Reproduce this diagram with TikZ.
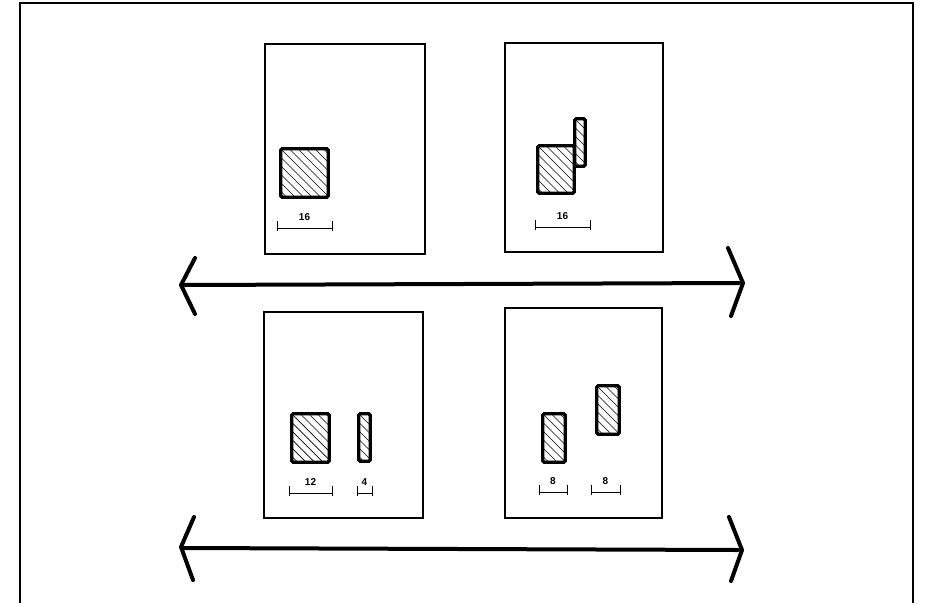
\documentclass[tikz,border=0pt]{standalone}
\usepackage{fontspec}
\setmainfont{Liberation Sans}
\begin{document}
\begin{tikzpicture}[x=1pt,y=-1pt,
  frame/.style={line width=2.2pt},
  panel/.style={draw,line width=1.1pt,inner sep=0pt,fill=white},
  block/.style={draw,line width=3.4pt,rounded corners=1.5pt,inner sep=0pt,fill=white,
    path picture={\foreach \k in {-14,...,10}
      \draw[line width=0.7pt] ([xshift=\k*8.5pt]path picture bounding box.north west) -- ++(120pt,-120pt);}},
  dim/.style={line width=0.8pt},
  lbl/.style={inner sep=0pt,font=\fontsize{10}{11}\selectfont\bfseries},
  shaft/.style={line width=4pt,line cap=round},
  chev/.style={line width=4pt,line cap=round,line join=round}]
\useasboundingbox (0,0) rectangle (925,603);
\draw[frame] (20,603) -- (20,3) -- (913,3) -- (913,603);

% panels
\node[panel,minimum width=160pt,minimum height=210pt] (p1) at (345,149) {};
\node[panel,minimum width=158pt,minimum height=209pt] (p2) at (584,147.5) {};
\node[panel,minimum width=159pt,minimum height=206pt] (p3) at (343.5,415) {};
\node[panel,minimum width=157pt,minimum height=210pt] (p4) at (583.5,413) {};

% hatched blocks
\node[block,minimum width=47.5pt,minimum height=48.5pt] (r1) at (304.5,173) {};
\node[block,minimum width=36.5pt,minimum height=47.5pt] (r2a) at (556,169.5) {};
\node[block,minimum width=10.5pt,minimum height=47.5pt] (r2b) at (580,142.5) {};
\node[block,minimum width=37.5pt,minimum height=48.5pt] (r3a) at (310.5,438) {};
\node[block,minimum width=11.5pt,minimum height=47.5pt] (r3b) at (364.5,437.5) {};
\node[block,minimum width=22.5pt,minimum height=48.5pt] (r4a) at (554,438) {};
\node[block,minimum width=22.5pt,minimum height=48.5pt] (r4b) at (608,410) {};

% dimension bars
\newcommand\dimbar[5]{%
  \coordinate (#5l) at (#1,#3);
  \coordinate (#5r) at (#2,#3);
  \draw[dim] (#5l) -- (#5r);
  \draw[dim] ([yshift=7pt]#5l) -- ([yshift=-3pt]#5l);
  \draw[dim] ([yshift=7pt]#5r) -- ([yshift=-3pt]#5r);
  \node[lbl] (#5t) at ({(#1+#2)/2},#3-11) {#4};}
\dimbar{277}{332}{228}{16}{d1}
\dimbar{535}{590}{227}{16}{d2}
\dimbar{289}{332}{493}{12}{d3}
\dimbar{357}{372}{493}{4}{d4}
\dimbar{539}{567}{492}{8}{d5}
\dimbar{591}{620}{492}{8}{d6}

% top double arrow
\coordinate (a1l) at (184,285);
\coordinate (a1r) at (739,283);
\draw[shaft] (a1l) -- (a1r);
\draw[chev] (195,258) -- (181,285) -- (195,314);
\draw[chev] (728,248) -- (743,283) -- (731,316);

% bottom double arrow
\coordinate (a2l) at (184,548);
\coordinate (a2r) at (738,550);
\draw[shaft] (a2l) -- (a2r);
\draw[chev] (194,517) -- (181,547) -- (193,580);
\draw[chev] (729,517) -- (742,550) -- (731,581);
\end{tikzpicture}
\end{document}
